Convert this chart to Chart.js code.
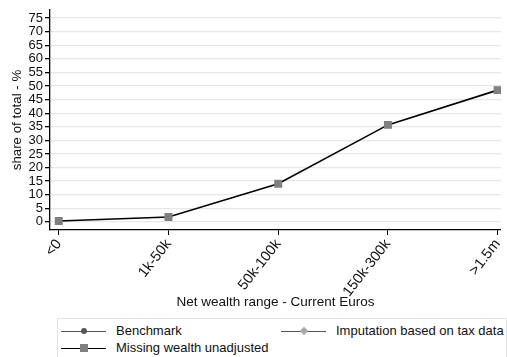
<!DOCTYPE html>
<html>
<head>
<meta charset="utf-8">
<script src="https://cdn.jsdelivr.net/npm/chart.js@4"></script>
<style>
  body { margin: 0; background: #fff; font-family: "Liberation Sans", Arial, sans-serif; }
  .wrap { position: relative; width: 507px; height: 357px; overflow: hidden; }
  .legend {
    position: absolute; left: 57px; top: 318px; width: 450px; height: 50px;
    border: 1px solid #e4e4e4; box-sizing: border-box;
    font-size: 13px; color: #111;
  }
  .item { position: absolute; height: 16px; line-height: 16px; white-space: nowrap; }
  .key { position: absolute; left: 0; top: 0; width: 45px; height: 16px; }
  .key .ln { position: absolute; left: 0; right: 0; top: 7.5px; height: 1.3px; }
  .key .mk { position: absolute; left: 50%; top: 50%; transform: translate(-50%, -50%); }
  .item span.txt { position: absolute; left: 55px; top: 0; }
</style>
</head>
<body>
<div class="wrap">
  <canvas id="myChart" width="507" height="314"></canvas>
  <div class="legend" id="legend"></div>
</div>
<script>
const categories = ["<0", "1k-50k", "50k-100k", "150k-300k", ">1.5m"];
const yTicks = [0, 5, 10, 15, 20, 25, 30, 35, 40, 45, 50, 55, 60, 65, 70, 75];
const benchmark = [null, null, null, null, null];
const imputation = [null, null, null, null, null];
const missingWealth = [0.3, 1.8, 14.0, 35.7, 48.5];

const seriesNames = ["Benchmark", "Imputation based on tax data", "Missing wealth unadjusted"];

const toPoints = (arr) => arr.map((v, i) => ({ x: i, y: v }));

const ctx = document.getElementById("myChart");

new Chart(ctx, {
  type: "line",
  data: {
    datasets: [
      {
        label: seriesNames[0],
        data: toPoints(benchmark),
        borderColor: "#555",
        backgroundColor: "#555",
        pointStyle: "circle",
        pointRadius: 3,
        borderWidth: 1.3,
      },
      {
        label: seriesNames[1],
        data: toPoints(imputation),
        borderColor: "#555",
        backgroundColor: "#aaa",
        pointStyle: "rectRot",
        pointRadius: 4,
        borderWidth: 1.3,
      },
      {
        label: seriesNames[2],
        data: toPoints(missingWealth),
        borderColor: "#000",
        backgroundColor: "#808080",
        pointBorderColor: "#808080",
        pointStyle: "rect",
        pointRadius: 4.5,
        borderWidth: 1.6,
      },
    ],
  },
  options: {
    responsive: false,
    animation: false,
    layout: { padding: { left: 9, right: 2, top: 10, bottom: 0 } },
    plugins: { legend: { display: false }, tooltip: { enabled: false } },
    scales: {
      x: {
        type: "linear",
        min: -0.08,
        max: 4.03,
        afterBuildTicks: (axis) => {
          axis.ticks = categories.map((c, i) => ({ value: i }));
        },
        afterFit: (axis) => {
          axis.height = 84;
          axis.paddingLeft = 0;
          axis.paddingRight = 0;
        },
        ticks: {
          callback: (v) => categories[v],
          autoSkip: false,
          color: "#111",
          font: { family: "Liberation Sans", size: 14.5 },
          minRotation: 52,
          maxRotation: 52,
          padding: 1,
        },
        grid: { drawOnChartArea: false, tickColor: "#000", tickLength: 5 },
        border: { color: "#000", width: 1.3 },
        title: {
          display: true,
          text: "Net wealth range - Current Euros",
          color: "#111",
          font: { family: "Liberation Sans", size: 13.5 },
          padding: { top: 0, bottom: 4 },
        },
      },
      y: {
        min: -3,
        max: 78,
        afterBuildTicks: (axis) => {
          axis.ticks = yTicks.map((v) => ({ value: v }));
        },
        afterFit: (axis) => {
          axis.width = 41;
          axis.paddingTop = 0;
          axis.paddingBottom = 0;
        },
        ticks: {
          autoSkip: false,
          color: "#111",
          font: { family: "Liberation Sans", size: 13 },
          padding: 2,
        },
        grid: { color: "#e8e8e8", lineWidth: 1.3, tickColor: "#000", tickLength: 5 },
        border: { color: "#000", width: 1.3 },
        title: {
          display: true,
          text: "share of total - %",
          color: "#111",
          font: { family: "Liberation Sans", size: 13.3 },
          padding: { top: 0, bottom: 0 },
        },
      },
    },
  },
});

// legend: line with marker in the middle, like the original
const legendEl = document.getElementById("legend");
const legendItems = [
  { name: seriesNames[0], left: 3, top: 4, line: "#555", mk: "width:6px;height:6px;border-radius:50%;background:#555;" },
  { name: seriesNames[1], left: 223, top: 4, line: "#555", mk: "width:6px;height:6px;background:#aaa;transform:translate(-50%,-50%) rotate(45deg);" },
  { name: seriesNames[2], left: 3, top: 21, line: "#000", mk: "width:8px;height:8px;background:#808080;" },
];
legendItems.forEach((it) => {
  legendEl.innerHTML += `
    <div class="item" style="left:${it.left}px;top:${it.top}px;">
      <div class="key"><div class="ln" style="background:${it.line}"></div><div class="mk" style="${it.mk}"></div></div>
      <span class="txt">${it.name}</span>
    </div>`;
});
</script>
</body>
</html>
